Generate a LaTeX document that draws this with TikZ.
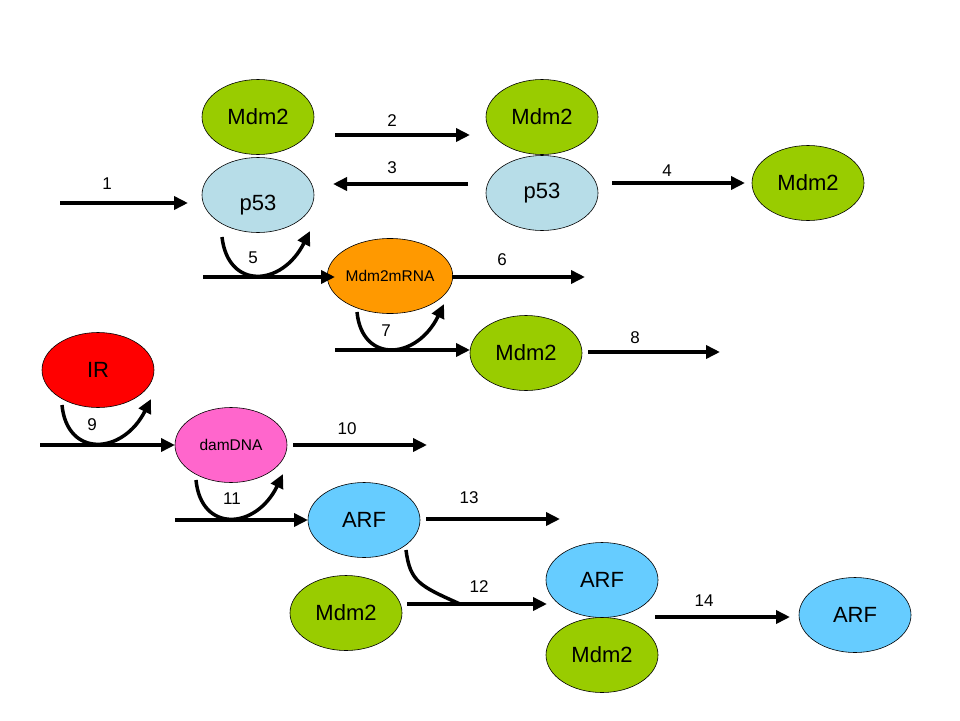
\documentclass[tikz,border=0pt]{standalone}
\usepackage{fontspec}
\setmainfont{Liberation Sans}
\usetikzlibrary{shapes.geometric,arrows.meta}
\definecolor{mdmgreen}{RGB}{153,204,0}
\definecolor{pblue}{RGB}{183,221,232}
\definecolor{morange}{RGB}{255,153,0}
\definecolor{dpink}{RGB}{255,102,204}
\definecolor{arfblue}{RGB}{102,204,255}
\definecolor{irred}{RGB}{255,0,0}
\begin{document}
\begin{tikzpicture}[x=1pt,y=-1pt,
  ent/.style={ellipse,draw=black,line width=0.6pt,minimum width=112pt,minimum height=75pt,inner sep=0pt,font=\fontsize{22}{22}\selectfont},
  txt/.style={inner sep=0pt,font=\fontsize{22}{22}\selectfont},
  small/.style={font=\fontsize{15.5}{16}\selectfont},
  lab/.style={font=\fontsize{17}{17}\selectfont,inner sep=0pt},
  flow/.style={line width=3.5pt,-{Triangle[length=14pt,width=13pt]}},
  bar/.style={line width=3.5pt},
]
\useasboundingbox[fill=white] (0,0) rectangle (960,720);

% entities
\node[ent,fill=mdmgreen] (mdmA) at (258,117) {Mdm2};
\node[ent,fill=pblue] (p53A) at (258,195) {};
\node[txt] (p53At) at (258,205) {p53};
\node[ent,fill=mdmgreen] (mdmB) at (542,117) {Mdm2};
\node[ent,fill=pblue] (p53B) at (542,193) {p53};
\node[ent,fill=mdmgreen] (mdmC) at (808,183) {Mdm2};
\node[ent,fill=morange,small] (mrna) at (390,276) {Mdm2mRNA};
\node[ent,fill=mdmgreen] (mdmD) at (526,353) {Mdm2};
\node[ent,fill=irred] (ir) at (98,370) {IR};
\node[ent,fill=dpink,small] (dna) at (231,445) {damDNA};
\node[ent,fill=arfblue] (arfA) at (364,520) {ARF};
\node[ent,fill=mdmgreen] (mdmE) at (346,613) {Mdm2};
\node[ent,fill=arfblue] (arfB) at (602,580) {ARF};
\node[ent,fill=mdmgreen] (mdmF) at (602,655) {Mdm2};
\node[ent,fill=arfblue] (arfC) at (855,615) {ARF};

% coordinates for free ends
\coordinate (a1s) at (60,203);   \coordinate (a1e) at (188,203);
\coordinate (a2s) at (335,135);  \coordinate (a2e) at (470,135);
\coordinate (a3s) at (468,184);  \coordinate (a3e) at (333,184);
\coordinate (a4s) at (612,183);  \coordinate (a4e) at (745,183);
\coordinate (a5s) at (203,277);  \coordinate (a5e) at (335,277);
\coordinate (a6s) at (452,277);  \coordinate (a6e) at (585,277);
\coordinate (a7s) at (335,350);  \coordinate (a7e) at (470,350);
\coordinate (a8s) at (588,352);  \coordinate (a8e) at (720,352);
\coordinate (a9s) at (40,445);   \coordinate (a9e) at (175,445);
\coordinate (a10s) at (293,445); \coordinate (a10e) at (427,445);
\coordinate (a11s) at (175,520); \coordinate (a11e) at (308,520);
\coordinate (a13s) at (426,519); \coordinate (a13e) at (560,519);
\coordinate (a12s) at (407,604); \coordinate (a12e) at (547,604);
\coordinate (a14s) at (655,617); \coordinate (a14e) at (790,617);

\coordinate (c5s) at (222,237);  \coordinate (c5e) at (310,231);
\coordinate (c7s) at (357,312);  \coordinate (c7e) at (444,304);
\coordinate (c9s) at (62,405);   \coordinate (c9e) at (151,399);
\coordinate (c11s) at (196,480); \coordinate (c11e) at (283,474);
\coordinate (c12s) at (406,550); \coordinate (c12m) at (460,604);

% straight arrows
\draw[flow] (a1s) -- (a1e);
\draw[flow] (a2s) -- (a2e);
\draw[flow] (a3s) -- (a3e);
\draw[flow] (a4s) -- (a4e);
\draw[flow] (a5s) -- (a5e);
\draw[flow] (a6s) -- (a6e);
\draw[flow] (a7s) -- (a7e);
\draw[flow] (a8s) -- (a8e);
\draw[flow] (a9s) -- (a9e);
\draw[flow] (a10s) -- (a10e);
\draw[flow] (a11s) -- (a11e);
\draw[flow] (a13s) -- (a13e);
\draw[flow] (a12s) -- (a12e);
\draw[flow] (a14s) -- (a14e);

% curved catalysis arrows
\draw[flow] (c5s) .. controls (228,290) and (282,287) .. (c5e);
\draw[flow] (c7s) .. controls (362,364) and (417,360) .. (c7e);
\draw[flow] (c9s) .. controls (67,458) and (123,455) .. (c9e);
\draw[flow] (c11s) .. controls (201,533) and (256,530) .. (c11e);
\draw[bar] (c12s) .. controls (410,582) and (420,586) .. (c12m);

% labels
\node[lab] (l1) at (107,184) {1};
\node[lab] (l2) at (392,121) {2};
\node[lab] (l3) at (392,168) {3};
\node[lab] (l4) at (667,171) {4};
\node[lab] (l5) at (253,258) {5};
\node[lab] (l6) at (502,260) {6};
\node[lab] (l7) at (386,331) {7};
\node[lab] (l8) at (635,338) {8};
\node[lab] (l9) at (92,425) {9};
\node[lab] (l10) at (347,429) {10};
\node[lab] (l11) at (232,499) {11};
\node[lab] (l12) at (479,587) {12};
\node[lab] (l13) at (469,498) {13};
\node[lab] (l14) at (704,601) {14};
\end{tikzpicture}
\end{document}
